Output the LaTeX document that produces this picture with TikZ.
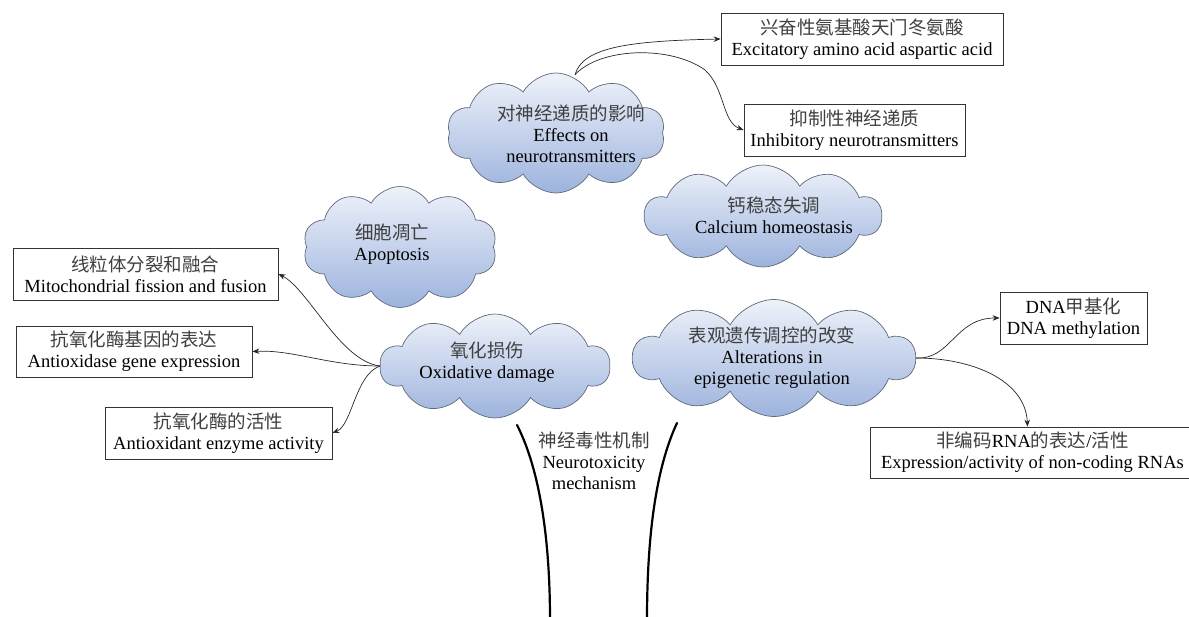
\documentclass[tikz,border=0pt]{standalone}
\usepackage{fontspec}
\setmainfont{Liberation Serif}
\newfontfamily\cjk{Noto Sans CJK SC}
\usetikzlibrary{shapes.symbols,arrows.meta}
\definecolor{cloudtop}{HTML}{EEF2FA}
\definecolor{cloudbot}{HTML}{9DB3DD}
\definecolor{cloudline}{HTML}{5F6A7A}
\newcommand\zh[1]{{\cjk\color{black!75}#1}}
\begin{document}
\begin{tikzpicture}[x=1pt,y=-1pt,
  cloudnode/.style={cloud, cloud puffs=10, cloud puff arc=120, cloud ignores aspect,
    draw=cloudline, line width=0.7pt, top color=cloudtop, bottom color=cloudbot, inner sep=0pt},
  tbox/.style={draw=black!80, line width=0.8pt, fill=white, inner sep=0pt, align=center,
    font=\fontsize{18.5}{21}\selectfont},
  lbl/.style={align=center, inner sep=0pt, font=\fontsize{18.5}{21}\selectfont},
  conn/.style={draw=black!85, line width=0.7pt, -{Stealth[length=7pt,width=5.5pt]}},
  trunk/.style={line width=2.2pt, line cap=round}]
\useasboundingbox (0,0) rectangle (1189,617);

% clouds
\node[cloudnode, minimum width=194pt, minimum height=121pt] (apo) at (400,247) {};
\node[cloudnode, minimum width=218pt, minimum height=120pt] (neuro) at (556,133) {};
\node[cloudnode, minimum width=237pt, minimum height=102pt] (cal) at (763,216) {};
\node[cloudnode, minimum width=230pt, minimum height=104pt] (ox) at (495,366) {};
\node[cloudnode, minimum width=282pt, minimum height=117pt] (epi) at (774,358) {};

% cloud labels
\node[lbl] (neurot) at (571,134) {\zh{对神经递质的影响}\\Effects on\\neurotransmitters};
\node[lbl] (apot) at (392,244) {\zh{细胞凋亡}\\Apoptosis};
\node[lbl] (calt) at (774,215) {\zh{钙稳态失调}\\Calcium homeostasis};
\node[lbl] (oxt) at (487,362) {\zh{氧化损伤}\\Oxidative damage};
\node[lbl] (epit) at (772,358) {\zh{表观遗传调控的改变}\\Alterations in\\epigenetic regulation};

% boxes
\node[tbox, minimum width=282pt, minimum height=52pt] (exc) at (862,39)
  {\zh{兴奋性氨基酸天门冬氨酸}\\Excitatory amino acid aspartic acid};
\node[tbox, minimum width=221pt, minimum height=52pt] (inh) at (854.5,130)
  {\zh{抑制性神经递质}\\Inhibitory neurotransmitters};
\node[tbox, minimum width=265pt, minimum height=52pt] (mito) at (145.5,274)
  {\zh{线粒体分裂和融合}\\Mitochondrial fission and fusion};
\node[tbox, minimum width=236pt, minimum height=51pt] (anti) at (134,351.5)
  {\zh{抗氧化酶基因的表达}\\Antioxidase gene expression};
\node[tbox, minimum width=227pt, minimum height=52pt] (act) at (218.5,433)
  {\zh{抗氧化酶的活性}\\Antioxidant enzyme activity};
\node[tbox, minimum width=147pt, minimum height=52pt] (dna) at (1073.5,318)
  {DNA\zh{甲基化}\\DNA methylation};
\node[tbox, minimum width=325pt, minimum height=51pt] (rna) at (1032.5,452.5)
  {\zh{非编码}RNA\zh{的表达}/\zh{活性}\\Expression/activity of non-coding RNAs};

% trunk
\draw[trunk] (517,425) .. controls (540,470) and (550,540) .. (550,620);
\draw[trunk] (677,423) .. controls (655,470) and (647,540) .. (647,620);
\node[lbl] (trunkt) at (594,461) {\zh{神经毒性机制}\\Neurotoxicity\\mechanism};

% connectors
\draw[conn] ([xshift=19pt,yshift=-2pt]neuro.north) .. controls +(8,-28) and +(-90,2) .. (exc.west);
\draw[conn] ([xshift=19pt,yshift=-2pt]neuro.north) .. controls +(25,-27) and (670,45) .. (705,70)
  .. controls (725,88) and (722,122) .. (inh.west);
\draw[conn] (ox.west) .. controls +(-40,-5) and +(30,15) .. (mito.east);
\draw[conn] (ox.west) .. controls +(-50,0) and +(40,-2) .. (anti.east);
\draw[conn] (ox.west) .. controls +(-25,9) and +(20,-8) .. (act.east);
\draw[conn] (epi.east) .. controls +(35,2) and +(-45,0) .. (dna.west);
\draw[conn] (epi.east) .. controls +(55,0) and +(-2,-47) .. ([xshift=-5pt]rna.north);
\end{tikzpicture}
\end{document}
